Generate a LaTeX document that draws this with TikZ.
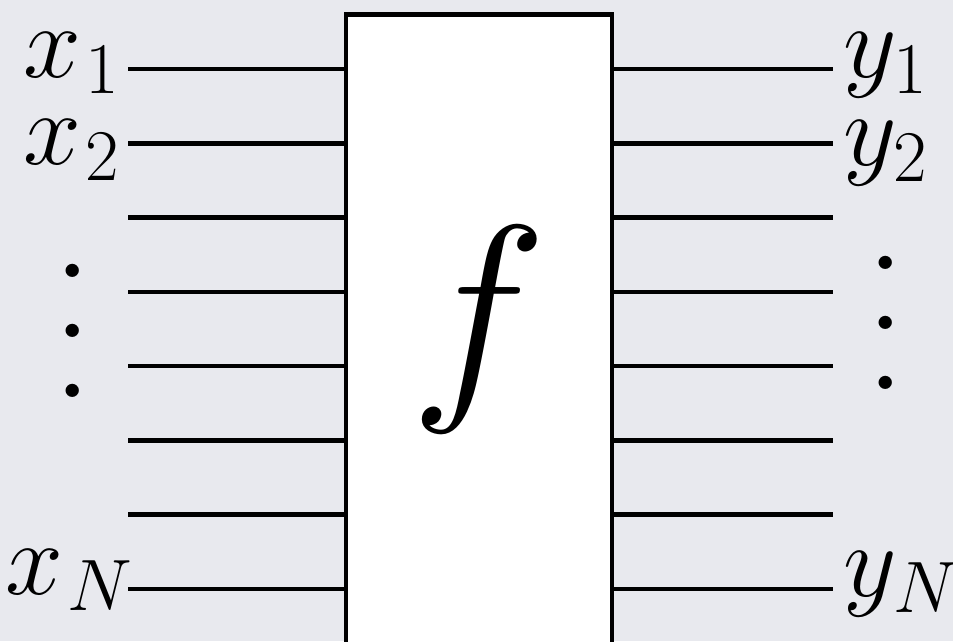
\documentclass[tikz,border=0pt]{standalone}
\IfFileExists{fix-cm.sty}{\usepackage{fix-cm}}{}
\definecolor{panel}{HTML}{E8E9EE}
\tikzset{
  wire/.style={line width=1.3pt},
  lab/.style={inner sep=0pt, font=\fontsize{29.6}{36}\selectfont},
  dotcol/.style={inner sep=0pt, align=center, font=\fontsize{46}{17.07}\selectfont},
}
\begin{document}
\begin{tikzpicture}
  \useasboundingbox (0,0) rectangle (9.53,6.41);
  \fill[panel] (0,0) rectangle (9.53,6.41);
  \clip (0,0) rectangle (9.53,6.41);
  \node[draw, wire, fill=white, minimum width=2.66cm, minimum height=7.265cm, inner sep=0pt] (box) at (4.79,2.6325) {};
  \node[inner sep=0pt, font=\fontsize{66}{80}\selectfont] (fn) at (4.79,3.11) {$f$};
  \foreach \k [evaluate=\k as \y using {5.72-0.7429*(\k-1)}] in {1,...,8} {
    \coordinate (in\k) at (1.28,\y);
    \coordinate (out\k) at (8.33,\y);
    \draw[wire] (in\k) -- (in\k -| box.west);
    \draw[wire] (box.east |- out\k) -- (out\k);
  }
  \node[lab, anchor=base east] (x1) at (1.21,5.63) {$x_{\mkern1mu 1}$};
  \node[lab, anchor=base east] (x2) at (1.21,4.76) {$x_{\mkern1mu 2}$};
  \node[lab, anchor=base east] (xN) at (1.35,0.46) {$x_{\mkern1mu N}$};
  \node[lab, anchor=base west] (y1) at (8.43,5.63) {$y_1$};
  \node[lab, anchor=base west] (y2) at (8.43,4.75) {$y_2$};
  \node[lab, anchor=base west] (yN) at (8.43,0.44) {$y_N$};
  \node[dotcol] (ldots) at (0.73,3.10) {.\\.\\.};
  \node[dotcol] (rdots) at (8.86,3.18) {.\\.\\.};
\end{tikzpicture}
\end{document}
